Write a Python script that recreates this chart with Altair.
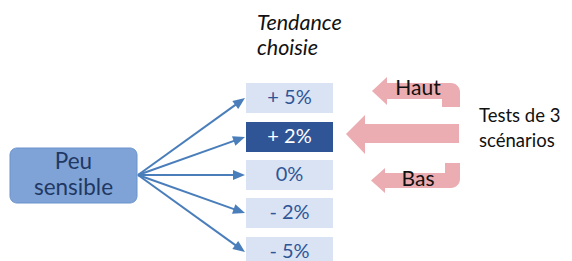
import math
import altair as alt
import pandas as pd

# ---- content ----
levels = ["+ 5%", "+ 2%", "0%", "- 2%", "- 5%"]
chosen = "+ 2%"
source_lines = ["Peu", "sensible"]
title_lines = ["Tendance", "choisie"]
scenario_labels = ["Haut", "Bas"]
side_lines = ["Tests de 3", "scénarios"]

# ---- layout (reference pixel coordinates) ----
FONT = "Lato"
box_left, box_right = 246, 333
box_tops = [83, 122, 160, 198, 237]
box_h = 30
src_box = dict(x=10, x2=137, y=148, y2=203)
src_text_y = [162, 188]
origin = (138, 175)
title_x, title_y = 257, [30, 55]
side_x, side_y = 479, [122, 147]
scen_text = [(418, 89), (418, 180)]

light, dark = "#dae3f3", "#2f5597"
blue_line = "#4a7ebb"
pink = "#ecadb2"

# pink arrow shapes: anchor (tip) and outline in pixels relative to the tip
pink_arrows = [
    dict(a="haut", x=372, y=91,
         path="M0,0L15,-14L15,-8L79,-8A9,9 0 0 1 88,1L88,16L70,16L70,8L15,8L15,14Z"),
    dict(a="mid", x=346, y=134,
         path="M0,0L19,-19L19,-10L113,-10L113,9L19,9L19,20Z"),
    dict(a="bas", x=371, y=180.5,
         path="M0,0L14,-12.5L14,-7.5L74,-7.5L74,-17.5L89,-17.5L89,-1.5A9,9 0 0 1 80,7.5L14,7.5L14,12.5Z"),
]

W, H = 556, 253
X = alt.Scale(domain=[8, 8 + W], nice=False, zero=False)
Y = alt.Scale(domain=[8, 8 + H], nice=False, zero=False, reverse=True)


def xe(f="x"):
    return alt.X(f"{f}:Q", scale=X, axis=None)


def ye(f="y"):
    return alt.Y(f"{f}:Q", scale=Y, axis=None)


# source box
src_df = pd.DataFrame([src_box])
src = alt.Chart(src_df).mark_rect(cornerRadius=7, fill="#7fa3d6", stroke="#6a93cc", strokeWidth=1).encode(
    x=xe(), x2="x2:Q", y=ye(), y2="y2:Q")
src_txt = alt.Chart(pd.DataFrame({"t": source_lines, "x": [73.5, 73.5], "y": src_text_y})).mark_text(
    font=FONT, fontSize=22.5, color="#1f3864", baseline="middle", align="center").encode(
    x=xe(), y=ye(), text="t:N")

# level boxes
lv = pd.DataFrame({
    "t": levels,
    "x": box_left, "x2": box_right,
    "y": box_tops, "y2": [t + box_h for t in box_tops],
    "yc": [t + box_h / 2 for t in box_tops],
    "xc": (box_left + box_right) / 2,
    "fill": [dark if l == chosen else light for l in levels],
    "tc": ["white" if l == chosen else "#2f5597" for l in levels],
})
boxes = alt.Chart(lv).mark_rect().encode(x=xe(), x2="x2:Q", y=ye(), y2="y2:Q",
                                         fill=alt.Fill("fill:N", scale=None))
box_txt = alt.Chart(lv).mark_text(font=FONT, fontSize=20, baseline="middle", align="center").encode(
    x=xe("xc"), y=ye("yc"), text="t:N", color=alt.Color("tc:N", scale=None))

# blue arrows
rows = []
for yc in lv["yc"]:
    tx, ty = box_left - 1, yc
    dx, dy = tx - origin[0], ty - origin[1]
    L = math.hypot(dx, dy)
    ang = math.degrees(math.atan2(dy, dx)) % 360
    rows.append(dict(x=origin[0], y=origin[1], x2=tx - dx / L * 8, y2=ty - dy / L * 8,
                     tx=tx, ty=ty, ang=ang))
ar = pd.DataFrame(rows)
lines = alt.Chart(ar).mark_rule(color=blue_line, strokeWidth=2).encode(
    x=xe(), y=ye(), x2="x2:Q", y2="y2:Q")
heads = alt.Chart(ar).mark_point(shape="M0,0L-1,-0.42L-1,0.42Z", filled=True, size=576,
                                 color=blue_line, opacity=1, strokeWidth=0).encode(
    x=xe("tx"), y=ye("ty"), angle=alt.Angle("ang:Q", scale=None))

# pink arrows (custom symbols; size 4 -> 1 path unit = 1 px)
pinks = alt.layer(*[
    alt.Chart(pd.DataFrame([{"a": p["a"], "x": p["x"], "y": p["y"]}])).mark_point(
        shape=p["path"], size=4, filled=True, color=pink, opacity=1, strokeWidth=0).encode(
        x=xe(), y=ye())
    for p in pink_arrows
])

scen = alt.Chart(pd.DataFrame({"t": scenario_labels, "x": [p[0] for p in scen_text],
                               "y": [p[1] for p in scen_text]})).mark_text(
    font=FONT, fontSize=21, color="#111111", baseline="middle", align="center").encode(
    x=xe(), y=ye(), text="t:N")

title = alt.Chart(pd.DataFrame({"t": title_lines, "x": title_x, "y": title_y})).mark_text(
    font=FONT, fontSize=21.5, fontStyle="italic", color="#111111", baseline="alphabetic", align="left").encode(
    x=xe(), y=ye(), text="t:N")

side = alt.Chart(pd.DataFrame({"t": side_lines, "x": side_x, "y": side_y})).mark_text(
    font=FONT, fontSize=18.5, color="#111111", baseline="alphabetic", align="left").encode(
    x=xe(), y=ye(), text="t:N")

chart = alt.layer(pinks, src, src_txt, lines, heads, boxes, box_txt, scen, title, side).properties(
    width=W, height=H, autosize="none", padding=0
).configure_view(stroke=None)

chart.save("out.html", embed_options={"renderer": "svg", "actions": False})
